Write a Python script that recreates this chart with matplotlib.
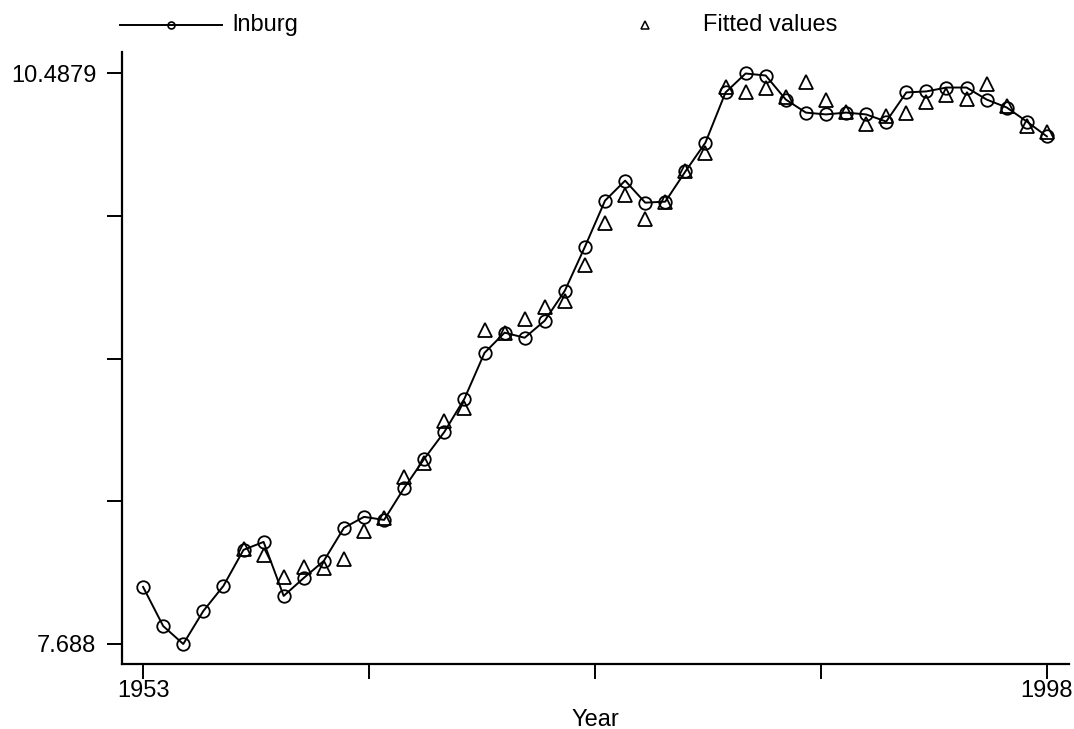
import matplotlib
matplotlib.use("Agg")
import matplotlib.pyplot as plt
from matplotlib.lines import Line2D
import numpy as np

years = list(range(1953, 1999))
lnburg = [7.968, 7.776, 7.688, 7.850, 7.973, 8.150, 8.189, 7.924, 8.012, 8.096,
          8.258, 8.312, 8.297, 8.454, 8.597, 8.729, 8.892, 9.117, 9.216, 9.191,
          9.275, 9.422, 9.638, 9.864, 9.962, 9.854, 9.859, 10.007, 10.149, 10.395,
          10.4879, 10.478, 10.360, 10.296, 10.287, 10.296, 10.287, 10.252, 10.395, 10.400,
          10.419, 10.419, 10.360, 10.321, 10.252, 10.179]
fit_years = list(range(1958, 1999))
fitted = [8.155, 8.125, 8.017, 8.066, 8.061, 8.106, 8.243, 8.307, 8.508, 8.577,
          8.783, 8.847, 9.230, 9.216, 9.285, 9.343, 9.373, 9.550, 9.756, 9.894,
          9.776, 9.859, 10.007, 10.100, 10.424, 10.395, 10.419, 10.375, 10.444, 10.360,
          10.301, 10.242, 10.277, 10.296, 10.350, 10.380, 10.365, 10.434, 10.326, 10.228,
          10.203]
xticks = [1953, 1964.25, 1975.5, 1986.75, 1998]
xticklabels = ["1953", "", "", "", "1998"]
yticks = [7.688, 8.388, 9.088, 9.788, 10.4879]
yticklabels = ["7.688", "", "", "", "10.4879"]

plt.rcParams['font.family'] = ['Liberation Sans', 'DejaVu Sans']
W, H = 1074, 729
fig = plt.figure(figsize=(W / 100, H / 100), dpi=100)
ax = fig.add_axes([122 / W, 1 - 664 / H, (1069 - 122) / W, (664 - 52) / H])

ax.plot(years, lnburg, color='black', lw=1.4, marker='o', ms=9,
        mfc='none', mec='black', mew=1.3, zorder=3)
ax.plot(fit_years, fitted, linestyle='none', marker='^', ms=10,
        mfc='none', mec='black', mew=1.3, zorder=3)

ax.set_xlim(1951.95, 1999.1)
ax.set_ylim(7.5898, 10.5934)
ax.set_xticks(xticks)
ax.set_xticklabels(xticklabels)
ax.set_yticks(yticks)
ax.set_yticklabels(yticklabels)
for s in ['top', 'right']:
    ax.spines[s].set_visible(False)
for s in ['left', 'bottom']:
    ax.spines[s].set_linewidth(1.6)
ax.tick_params(axis='both', length=10.5, width=1.4, labelsize=17, color='black')
ax.tick_params(axis='y', pad=8)
ax.tick_params(axis='x', pad=1)
ax.set_xlabel("Year", fontsize=17, labelpad=5)

# legend at top
ly = 1 - 25 / H
fig.add_artist(Line2D([120 / W, 222 / W], [ly, ly], color='black', lw=1.4,
                      transform=fig.transFigure))
fig.add_artist(Line2D([171 / W], [ly], color='black', marker='o', ms=5,
                      mfc='none', mec='black', mew=1.2, linestyle='none',
                      transform=fig.transFigure))
fig.text(232 / W, ly, "lnburg", fontsize=17, va='center', ha='left')
fig.add_artist(Line2D([645 / W], [ly], color='black', marker='^', ms=6,
                      mfc='none', mec='black', mew=1.1, linestyle='none',
                      transform=fig.transFigure))
fig.text(703 / W, ly, "Fitted values", fontsize=17, va='center', ha='left')

fig.savefig("out.png", dpi=100)
